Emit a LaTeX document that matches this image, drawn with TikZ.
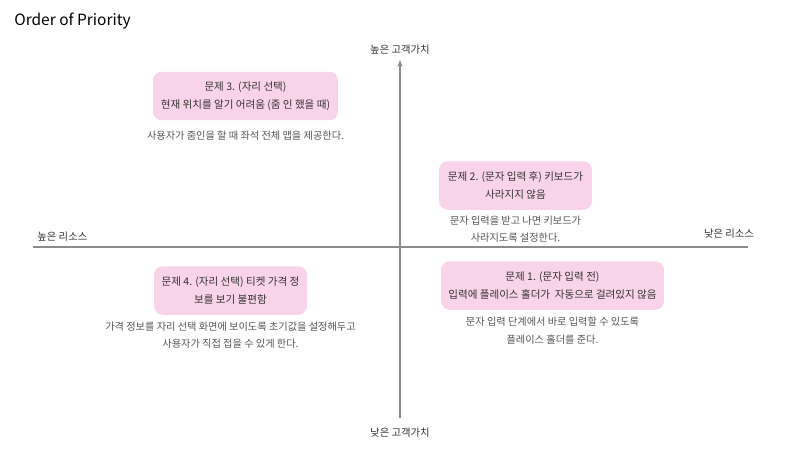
\documentclass[tikz,border=0pt]{standalone}
\usepackage{fontspec}
\setmainfont{Noto Sans CJK KR}
\usepackage{tikz}
\usetikzlibrary{arrows.meta,positioning}
\definecolor{boxpink}{HTML}{F8D3E9}
\definecolor{axisgray}{HTML}{8C8C8C}
\definecolor{txtdark}{HTML}{333333}
\definecolor{txtgray}{HTML}{555555}

\begin{document}
\begin{tikzpicture}[
  x=0.02cm, y=-0.02cm, >={Stealth[length=4pt, width=3pt]},
  prob/.style={fill=boxpink, rounded corners=5pt, align=center, inner sep=2pt, minimum height=0.97cm, text=txtdark, font=\fontsize{6.0}{10.6}\selectfont},
  desc/.style={align=center, inner sep=0pt, text=txtgray, font=\fontsize{5.8}{9.7}\selectfont},
  axlab/.style={inner sep=0pt, text=txtdark, font=\fontsize{5.9}{8}\selectfont},
  ax/.style={draw=axisgray, line width=0.8pt},
]
\useasboundingbox (0,0) rectangle (800,450);
\node[anchor=west, inner sep=0pt, font=\fontsize{8.8}{11}\selectfont] (title) at (14,21) {Order of Priority};
% axes
\coordinate (top) at (400,60);
\coordinate (bot) at (400,418);
\coordinate (lft) at (33,247);
\coordinate (rgt) at (748,247);
\draw[ax] (lft) -- (rgt);
\draw[ax, ->] (bot) -- (top);
\node[axlab] (hival) at (400,50) {높은 고객가치};
\node[axlab] (loval) at (400,433) {낮은 고객가치};
\node[axlab, anchor=west] (hires) at (37,237) {높은 리소스};
\node[axlab] (lores) at (729,234) {낮은 리소스};
% problems
\node[prob, minimum width=3.7cm] (p3) at (245.5,96) {문제 3. (자리 선택)\\현재 위치를 알기 어려움 (줌 인 했을 때)};
\node[desc, below=0.2cm of p3] (d3) {사용자가 줌인을 할 때 좌석 전체 맵을 제공한다.};
\node[prob, minimum width=3.06cm] (p2) at (515.5,185.5) {문제 2. (문자 입력 후) 키보드가\\사라지지 않음};
\node[desc, below=0.12cm of p2] (d2) {문자 입력을 받고 나면 키보드가\\사라지도록 설정한다.};
\node[prob, minimum width=3.06cm] (p4) at (230.5,290.5) {문제 4. (자리 선택) 티켓 가격 정\\보를 보기 불편함};
\node[desc, below=0.14cm of p4] (d4) {가격 정보를 자리 선택 화면에 보이도록 초기값을 설정해두고\\사용자가 직접 접을 수 있게 한다.};
\node[prob, minimum width=4.46cm] (p1) at (552.5,285.5) {문제 1. (문자 입력 전)\\입력에 플레이스 홀더가\ \ 자동으로 걸려있지 않음};
\node[desc, below=0.14cm of p1] (d1) {문자 입력 단계에서 바로 입력할 수 있도록\\플레이스 홀더를 준다.};
\end{tikzpicture}
\end{document}
